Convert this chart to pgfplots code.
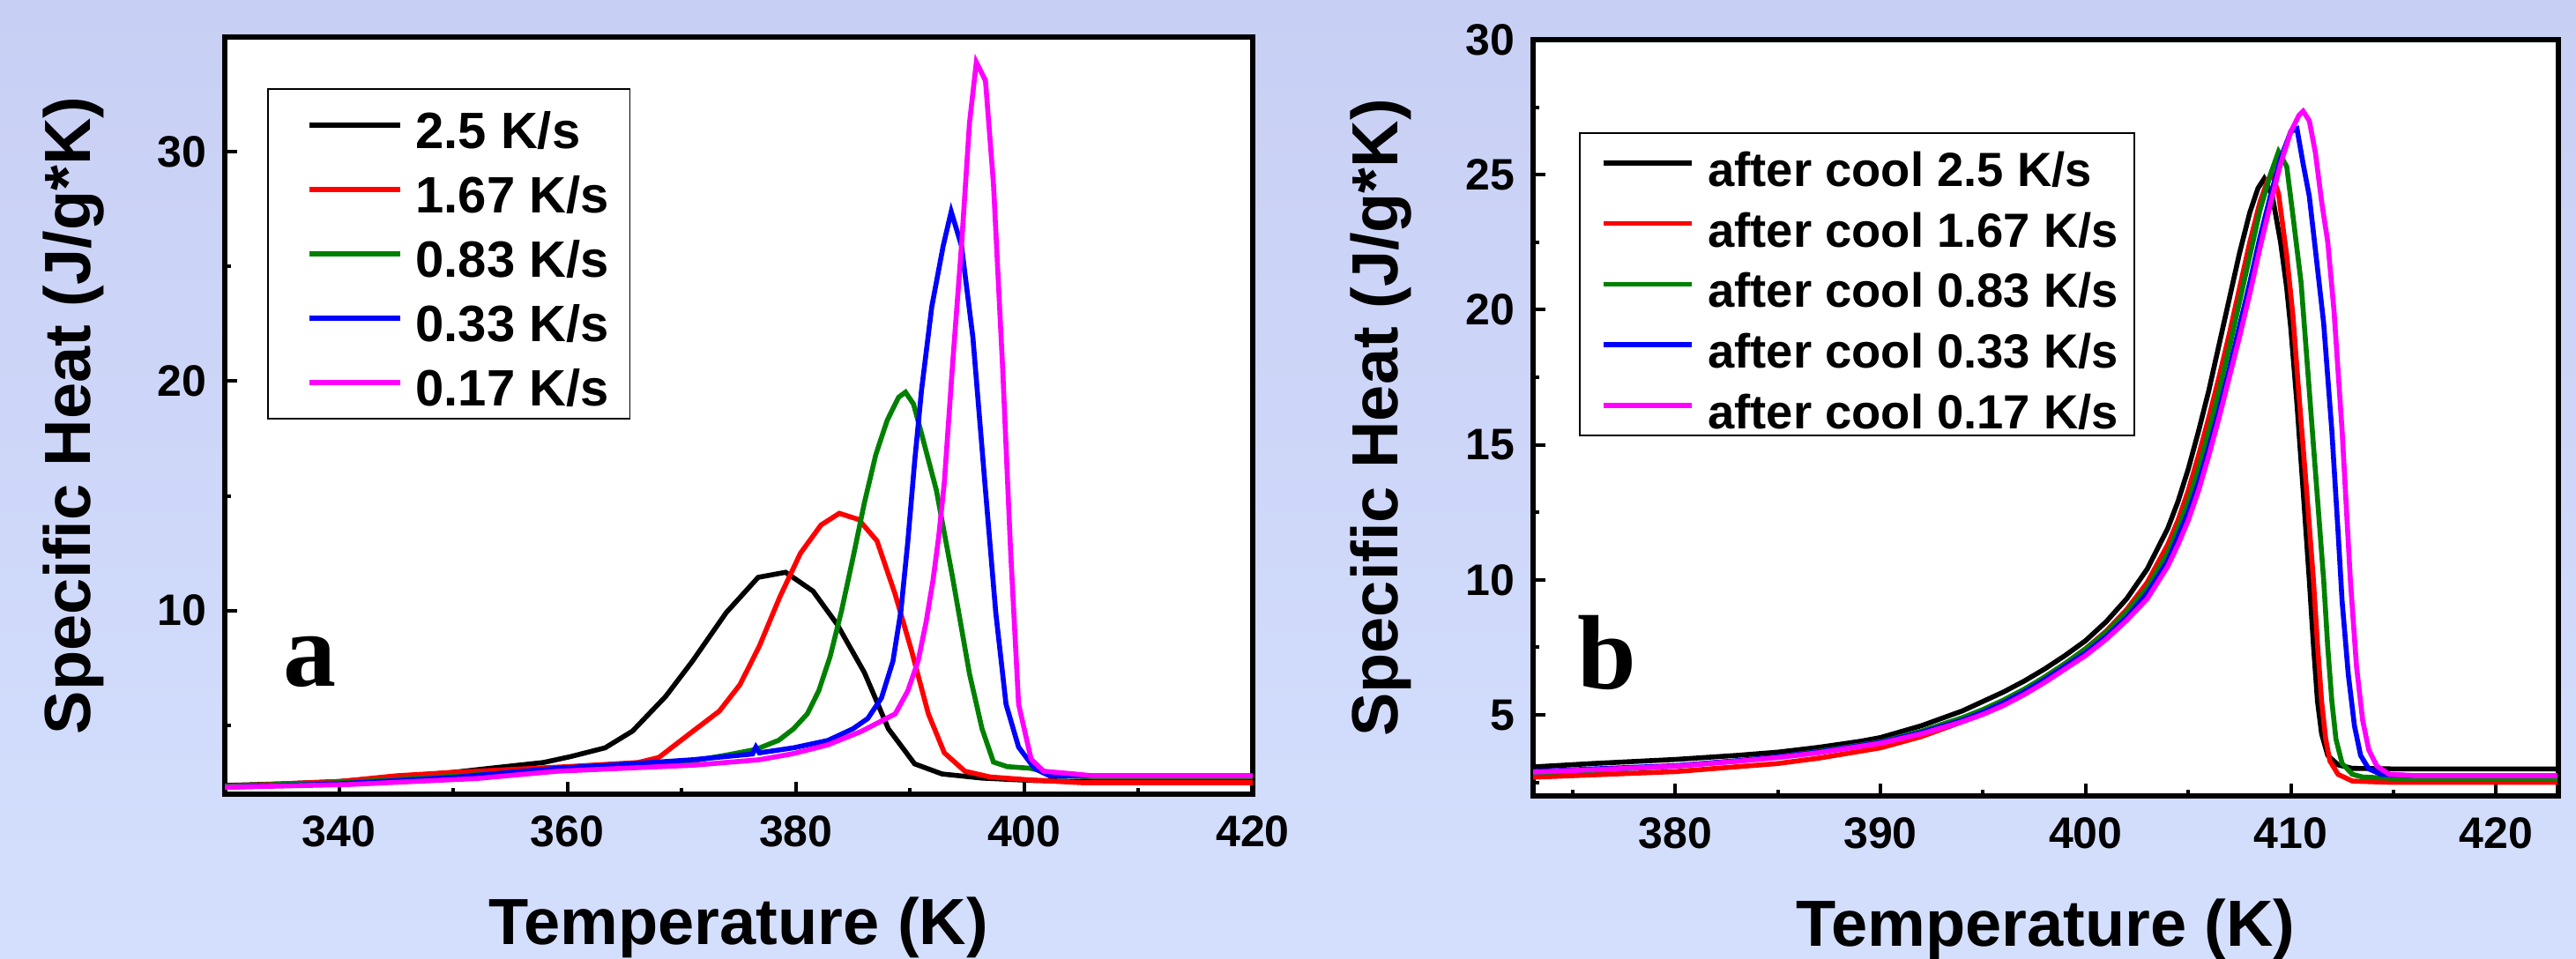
\documentclass[border=0pt]{standalone}
\usepackage{fontspec}
\setmainfont{Liberation Sans}
\newfontfamily\serifb{Liberation Serif}
\usepackage{pgfplots}
\pgfplotsset{compat=1.18}
\definecolor{bgtop}{RGB}{200,207,244}
\definecolor{bgbot}{RGB}{212,223,253}
\definecolor{dgreen}{RGB}{0,128,0}
\definecolor{mag}{RGB}{255,0,255}
\pgfplotsset{
  myaxis/.style={
    scale only axis,
    axis background/.style={fill=white},
    axis line style={line width=1.5pt},
    every tick/.style={black, line width=1pt},
    major tick length=3.5pt, minor tick length=1.75pt,
    tick align=inside,
    xtick pos=bottom, ytick pos=left,
    tick label style={font=\fontsize{12.5}{12.5}\selectfont\bfseries, inner sep=0pt},
    /pgf/number format/assume math mode=true,
    xticklabel shift=6pt, yticklabel shift=5pt,
    label style={font=\fontsize{18.5}{18.5}\selectfont\bfseries, inner sep=0pt},
    xlabel style={at={(axis description cs:0.5,0)}, anchor=base, yshift=-42.75pt},
    ylabel style={at={(axis description cs:-0.1312,0.5)}, anchor=base},
    every axis plot/.append style={line width=1.4pt, mark=none},
    legend cell align=left,
  }
}
\pgfplotstableread{
T v
330 2.38
335 2.45
340 2.55
345 2.75
350 2.95
353.8 3.16
357.9 3.38
360.3 3.64
363.3 4.02
365.7 4.75
368.6 6.26
370.95 7.8
373.9 9.91
376.7 11.45
379.1 11.67
381.5 10.85
383.6 9.41
386.0 7.3
388.1 4.85
390.4 3.32
392.8 2.88
396.3 2.7
400.5 2.6
405 2.55
420 2.55
}\aA
\pgfplotstableread{
T v
330 2.35
340 2.55
345 2.8
350 2.95
354.4 3.06
360 3.2
366.2 3.38
368 3.6
370.95 4.73
373.3 5.62
375.1 6.77
376.8 8.45
378.6 10.6
380.4 12.5
382.2 13.73
383.8 14.24
385.5 13.97
387.1 13.04
388.7 10.7
390.1 8.3
391.6 5.5
393.0 3.8
394.8 3.0
397 2.75
400.5 2.62
405 2.5
420 2.5
}\aB
\pgfplotstableread{
T v
330 2.35
340 2.5
350 2.78
360 3.1
365 3.3
370.95 3.45
373.9 3.7
376.5 3.95
378.5 4.35
379.8 4.85
381 5.5
382 6.5
383 8.0
384 10.0
385 12.3
386 14.7
387 16.8
388 18.3
389 19.3
389.6 19.52
390.3 19.0
390.9 17.9
392.3 15.25
393.7 11.5
395.2 7.25
396.3 4.85
397.3 3.4
398.5 3.2
400.5 3.13
403.4 2.8
406 2.75
420 2.75
}\aC
\pgfplotstableread{
T v
330 2.3
340 2.45
350.3 2.74
359.1 3.13
365 3.3
370.95 3.5
376.2 3.75
376.5 4.05
376.8 3.8
379.8 4.02
382.8 4.34
385 4.85
386.3 5.3
387.5 6.2
388.5 7.8
389.2 10.0
389.8 13.0
390.4 16.5
391 19.6
391.9 23.25
392.9 25.9
393.6 27.39
394.5 25.9
395.5 21.9
396.6 15.25
397.5 9.92
398.4 5.92
399.5 4.05
400.9 3.12
402.2 2.8
420 2.8
}\aD
\pgfplotstableread{
T v
330 2.3
340.8 2.42
352 2.68
359.1 3.0
365 3.13
370.95 3.26
376.8 3.5
379.8 3.77
382.8 4.15
385.7 4.73
388.7 5.5
389.8 6.5
390.7 7.8
391.4 9.5
392 11.3
392.5 13.2
393 15.6
393.7 20.6
394.5 25.9
395.2 31.25
395.8 33.9
396.6 33.1
397.3 28.6
398.1 20.6
398.8 12.6
399.5 5.92
400.6 3.52
401.7 3.0
404.6 2.87
406 2.8
420 2.8
}\aE
\pgfplotstableread{
T v
373 3.07
376 3.2
380 3.35
383 3.5
385 3.62
387 3.8
389 4.02
390 4.16
392 4.6
394 5.15
395 5.5
396 5.85
397 6.25
398 6.7
399 7.2
400 7.75
401 8.45
402 9.3
403 10.4
404 11.9
404.5 12.9
405 14.1
405.5 15.5
406 17.0
406.5 18.7
407 20.4
407.5 22.1
408 23.6
408.4 24.5
408.7 24.85
409.1 24.2
409.5 22.5
409.8 20.8
410.0 19.3
410.3 16.5
410.6 13.3
410.9 10.0
411.1 7.6
411.3 5.5
411.5 4.3
411.8 3.5
412.3 3.15
413 3.02
415 3.0
423 3.0
}\bA
\pgfplotstableread{
T v
373 2.69
376 2.78
380 2.9
383 3.08
385 3.2
387 3.4
390 3.78
392 4.2
394 4.75
395 5.05
396 5.45
397 5.9
398 6.4
399 6.9
400 7.45
401 8.1
402 8.9
403 9.9
404 11.3
404.5 12.2
405 13.3
405.5 14.6
406 16.0
406.5 17.5
407 19.1
407.5 20.8
408 22.5
408.5 24.0
408.9 24.85
409.1 25.0
409.4 24.3
409.8 22.0
410.1 19.8
410.4 16.8
410.8 13.0
411.1 10.0
411.3 7.6
411.5 5.5
411.7 4.1
411.9 3.3
412.3 2.8
413 2.55
415 2.5
423 2.5
}\bB
\pgfplotstableread{
T v
373 2.85
376 2.95
380 3.1
383 3.3
385 3.45
387 3.65
390 4.0
392 4.4
394 4.9
395 5.2
396 5.55
397 5.95
398 6.4
399 6.9
400 7.45
401 8.05
402 8.8
403 9.7
404 11.0
404.5 11.9
405 12.9
405.5 14.1
406 15.5
406.5 17.0
407 18.6
407.5 20.3
408 22.0
408.5 23.7
409.0 25.0
409.4 25.85
409.8 25.3
410.1 23.5
410.5 21.0
410.8 18.0
411.2 14.0
411.6 10.0
411.8 7.5
412.0 5.5
412.2 4.1
412.5 3.2
413 2.8
413.5 2.7
415 2.65
423 2.65
}\bC
\pgfplotstableread{
T v
373 2.9
376 3.0
380 3.12
383 3.3
385 3.45
387 3.63
390 3.98
392 4.35
394 4.8
395 5.1
396 5.45
397 5.85
398 6.3
399 6.8
400 7.3
401 7.9
402 8.6
403 9.5
404 10.7
404.5 11.6
405 12.5
405.5 13.6
406 14.9
406.5 16.3
407 17.8
407.5 19.4
408 21.0
408.5 22.7
409 24.2
409.5 25.6
410.0 26.6
410.3 26.7
410.6 25.4
410.9 24.2
411.2 22.2
411.6 19.5
412.0 15.5
412.3 11.8
412.5 9.2
412.8 6.5
413.1 4.6
413.4 3.5
413.8 3.0
414.4 2.8
416 2.75
423 2.75
}\bD
\pgfplotstableread{
T v
373 2.88
376 2.97
380 3.1
383 3.28
385 3.42
387 3.6
390 3.95
392 4.3
394 4.75
395 5.02
396 5.35
397 5.75
398 6.2
399 6.7
400 7.2
401 7.8
402 8.5
403 9.3
404 10.5
404.5 11.3
405 12.2
405.5 13.3
406 14.6
406.5 16.0
407 17.5
407.5 19.0
408 20.6
408.5 22.3
409 23.9
409.5 25.4
410 26.6
410.4 27.2
410.6 27.35
410.9 27.0
411.2 25.8
411.5 24.0
411.8 22.5
412.1 20.0
412.5 15.5
412.9 10.0
413.2 6.8
413.5 4.8
413.8 3.7
414.2 3.1
414.8 2.8
416 2.75
423 2.75
}\bE
\begin{document}
\begin{tikzpicture}
\shade[top color=bgtop, bottom color=bgbot] (0,0) rectangle (730.5pt,272pt);
\begin{axis}[myaxis,
  at={(63.75pt,46.75pt)}, anchor=south west,
  width=291.5pt, height=214.75pt,
  xmin=330, xmax=420, ymin=2, ymax=35,
  xtick={340,360,...,420}, minor xtick={350,370,...,410},
  ytick={10,20,30}, minor ytick={5,15,25},
  xlabel={Temperature (K)}, ylabel={Specific Heat (J/g*K)},
  legend style={at={(axis description cs:0.0412,0.9325)}, anchor=north west,
    draw=black, line width=0.4pt, fill=white,
    inner xsep=6pt, inner ysep=3.5pt, row sep=4.75pt,
    font=\fontsize{14.5}{14.5}\selectfont\bfseries,
    nodes={inner sep=0pt, text height=13.5pt, text depth=0pt},
    /tikz/every odd column/.append style={column sep=3.75pt}},
  legend image code/.code={\path (-5pt,0pt); \draw[#1] (0pt,0pt) -- (25.75pt,0pt);},
]
\addplot[black] table {\aA};
\addplot[red] table {\aB};
\addplot[dgreen] table {\aC};
\addplot[blue] table {\aD};
\addplot[mag] table {\aE};
\legend{2.5 K/s,1.67 K/s,0.83 K/s,0.33 K/s,0.17 K/s}
\node[anchor=base, inner sep=0pt, font=\serifb\bfseries\fontsize{30}{30}\selectfont] at (axis description cs:0.083,0.143) {a};
\end{axis}
\begin{axis}[myaxis,
  at={(434.75pt,46.25pt)}, anchor=south west,
  width=290.75pt, height=214.5pt,
  xmin=373.07, xmax=423.04, ymin=2, ymax=30,
  xtick={380,390,...,420}, minor xtick={375,385,...,415},
  ytick={5,10,...,30}, minor ytick={2.5,7.5,...,27.5},
  xlabel={Temperature (K)}, ylabel={Specific Heat (J/g*K)},
  ylabel style={at={(axis description cs:-0.1316,0.5)}},
  legend style={at={(axis description cs:0.0447,0.8776)}, anchor=north west,
    draw=black, line width=0.4pt, fill=white,
    inner xsep=4.5pt, inner ysep=1.9pt, row sep=4pt,
    font=\fontsize{13.6}{13.6}\selectfont\bfseries,
    nodes={inner sep=0pt, text height=13.2pt, text depth=0pt},
    /tikz/every odd column/.append style={column sep=4pt}},
  legend image code/.code={\path (-1.5pt,0pt); \draw[#1] (0pt,0pt) -- (25pt,0pt);},
]
\addplot[black] table {\bA};
\addplot[red] table {\bB};
\addplot[dgreen] table {\bC};
\addplot[blue] table {\bD};
\addplot[mag] table {\bE};
\legend{after cool 2.5 K/s,after cool 1.67 K/s,after cool 0.83 K/s,after cool 0.33 K/s,after cool 0.17 K/s}
\node[anchor=base, inner sep=0pt, font=\serifb\bfseries\fontsize{30}{30}\selectfont] at (axis description cs:0.0722,0.142) {b};
\end{axis}
\pgfresetboundingbox
\path (0,0) rectangle (730.5pt,272pt);
\end{tikzpicture}
\end{document}
